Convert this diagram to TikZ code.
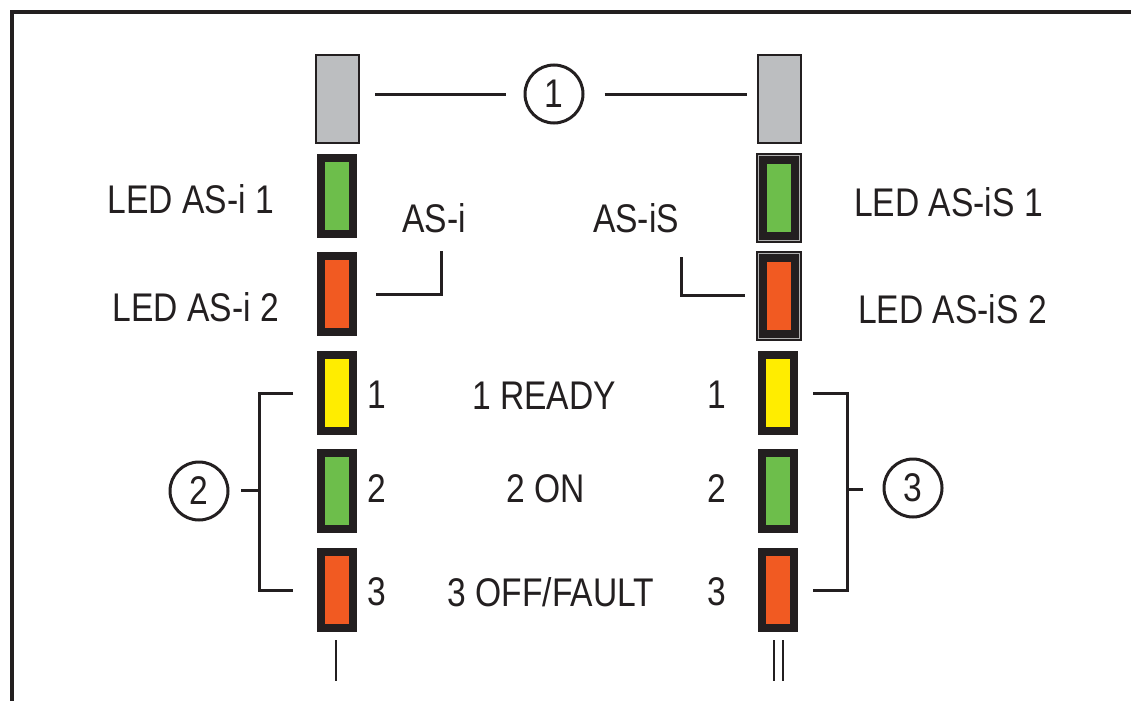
\documentclass[tikz,border=0pt]{standalone}
\usepackage{fontspec}
\setmainfont[FakeStretch=0.84]{Liberation Sans}
\usetikzlibrary{positioning, calc}

\definecolor{ledblack}{HTML}{231F20}
\definecolor{ledgreen}{HTML}{6DBE4B}
\definecolor{ledred}{HTML}{F15A22}
\definecolor{ledyellow}{HTML}{FFED00}
\definecolor{covergray}{HTML}{BCBEC0}

\begin{document}
\begin{tikzpicture}[
    x=1pt, y=-1pt,
    every node/.style={font=\fontsize{40}{48}\selectfont, text=ledblack},
    led/.style={rectangle, draw=ledblack, line width=8pt, minimum width=32pt, minimum height=76pt, inner sep=0pt},
    bigled/.style={led, line width=11pt, minimum width=35pt, minimum height=79pt},
    cover/.style={rectangle, draw=ledblack, line width=2pt, fill=covergray, minimum width=43pt, minimum height=88pt, inner sep=0pt},
    num/.style={circle, draw=ledblack, line width=3pt, minimum size=58pt, inner sep=0pt},
    leader/.style={draw=ledblack, line width=3pt},
    rim/.style={draw=gray!60, line width=1pt},
    txt/.style={inner sep=0pt}
]
\useasboundingbox (0,0) rectangle (1131,701);

% ============ FRAME ============
\draw[ledblack, line width=4pt] (1131,12) -- (12,12) -- (12,701);

% ============ COVERS ============
\node[cover] (coverA) at (337.5, 99) {};
\node[cover] (coverB) at (779, 99) {};
\node[num] (num1) at (554, 94) {1};

% ============ LEFT COLUMN: AS-i ============
\node[led, fill=ledgreen] (ledA1) at (337, 196) {};
\node[led, fill=ledred] (ledA2) at (337, 294) {};
\node[led, fill=ledyellow] (ledA3) at (337, 393) {};
\node[led, fill=ledgreen] (ledA4) at (337, 491) {};
\node[led, fill=ledred] (ledA5) at (337, 590) {};

\node[txt, anchor=east] (lblA1) at (274, 199) {LED AS-i 1};
\node[txt, anchor=east] (lblA2) at (279, 307) {LED AS-i 2};
\node[txt] (asi) at (434, 218) {AS-i};

\node[txt] (digA1) at (377, 395) {1};
\node[txt] (digA2) at (377, 489) {2};
\node[txt] (digA3) at (377, 592) {3};

% ============ RIGHT COLUMN: AS-iS ============
\node[bigled, fill=ledgreen] (ledB1) at (779, 197.5) {};
\node[bigled, fill=ledred] (ledB2) at (779, 295.5) {};
\node[led, fill=ledyellow] (ledB3) at (778, 393) {};
\node[led, fill=ledgreen] (ledB4) at (778, 491) {};
\node[led, fill=ledred] (ledB5) at (778, 590) {};

\draw[rim] ([shift={(2.5,2.5)}]ledB1.north west) rectangle ([shift={(-2.5,-2.5)}]ledB1.south east);
\draw[rim] ([shift={(2.5,2.5)}]ledB2.north west) rectangle ([shift={(-2.5,-2.5)}]ledB2.south east);

\node[txt, anchor=west] (lblB1) at (854, 202) {LED AS-iS 1};
\node[txt, anchor=west] (lblB2) at (858, 309) {LED AS-iS 2};
\node[txt] (asis) at (636, 218) {AS-iS};

\node[txt] (digB1) at (717, 395) {1};
\node[txt] (digB2) at (717, 489) {2};
\node[txt] (digB3) at (717, 592) {3};

% ============ STATES ============
\node[txt] (ready) at (544, 396) {1 READY};
\node[txt] (on) at (546, 489) {2 ON};
\node[txt] (fault) at (551, 592) {3 OFF/FAULT};

% ============ LEADERS ============
\draw[leader, shorten <=15pt, shorten >=18pt] (coverA.east |- num1) -- (num1.west);
\draw[leader, shorten <=20pt, shorten >=10pt] (num1.east) -- (coverB.west |- num1);

\draw[leader, shorten >=18pt] ([xshift=19pt]ledA2.east) -| ([xshift=7pt]asi.south);
\draw[leader, shorten >=24pt] ([xshift=-11pt]ledB2.west) -| ([xshift=45pt]asis.south);

% bracket 2
\node[num] (num2) at (199, 491) {2};
\coordinate (brA) at (259, 490);
\draw[leader] ([xshift=-24pt]ledA3.west) -| (brA) |- ([xshift=-24pt]ledA5.west);
\draw[leader, shorten >=11pt] (brA) -- (brA -| num2.east);

% bracket 3
\node[num] (num3) at (913, 488) {3};
\coordinate (brB) at (847, 489);
\draw[leader] ([xshift=15pt]ledB3.east) -| (brB) |- ([xshift=15pt]ledB5.east);
\draw[leader, shorten >=20pt] (brB) -- (brB -| num3.west);

% I / II marks
\draw[leader, line width=2.5pt] (ledA5.south) ++(-1,8) -- ++(0,41);
\draw[leader, line width=2.5pt] (ledB5.south) ++(-4,8) -- ++(0,41);
\draw[leader, line width=2.5pt] (ledB5.south) ++(5,8) -- ++(0,41);

\end{tikzpicture}
\end{document}
